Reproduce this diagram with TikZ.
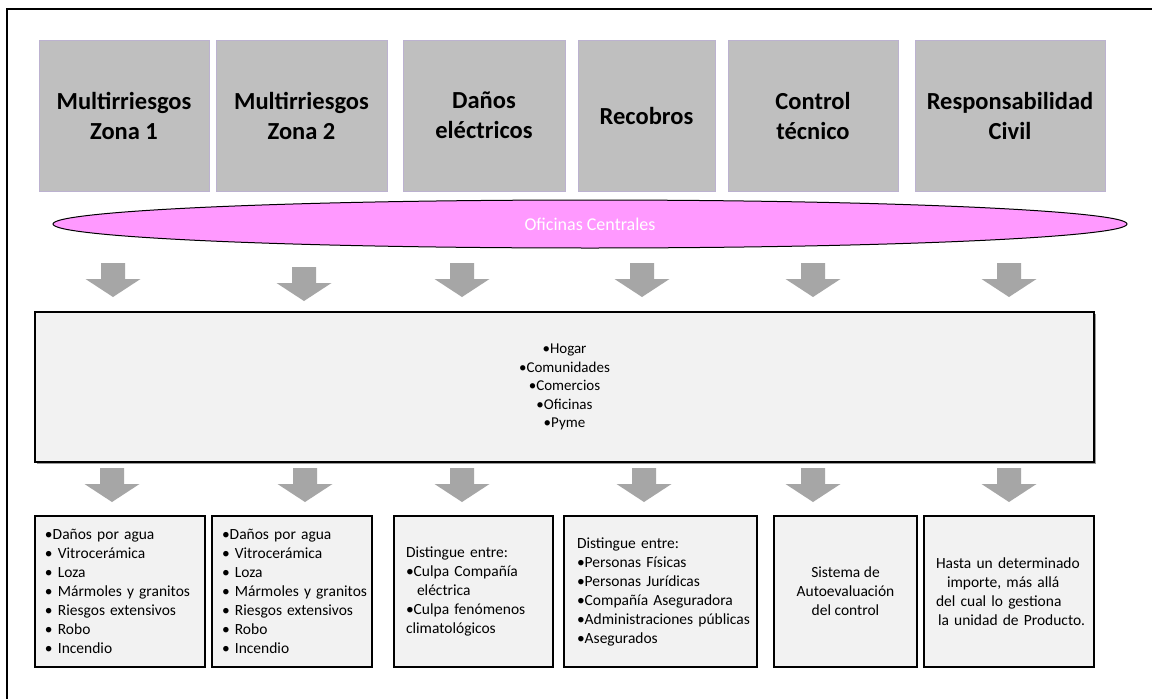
\documentclass[tikz,border=0pt]{standalone}
\usepackage{fontspec}
\setmainfont{Carlito}
\usetikzlibrary{shapes.geometric}
\definecolor{headfill}{HTML}{BFBFBF}
\definecolor{headline}{HTML}{BCB2D0}
\definecolor{ovalfill}{HTML}{FF99FF}
\definecolor{arrowgray}{HTML}{A6A6A6}
\definecolor{panelfill}{HTML}{F2F2F2}
\definecolor{shadowgray}{HTML}{9A9A9A}

\begin{document}
\hyphenpenalty=10000
\exhyphenpenalty=10000
\begin{tikzpicture}[x=1pt,y=-1pt,
  headbox/.style={draw=headline, line width=0.8pt, fill=headfill, inner sep=0pt,
    minimum height=151pt, align=center, font=\fontsize{24.5}{30}\selectfont\bfseries},
  oval/.style={ellipse, draw=black, line width=1pt, fill=ovalfill, inner sep=0pt,
    minimum width=1074pt, minimum height=48pt, text=white, font=\fontsize{18}{22}\selectfont},
  panel/.style={draw=black, line width=1.3pt, fill=panelfill, inner sep=0pt,
    minimum height=151pt, font=\fontsize{15.5}{19}\selectfont},
  listbox/.style={panel, align=left},
  blockarrow/.pic={\fill[arrowgray] (-12,0) -- (12,0) -- (12,16) -- (27.5,16)
    -- (0,34) -- (-27.5,16) -- (-12,16) -- cycle;}
]
\useasboundingbox (0,0) rectangle (1152,699);
\fill[white] (0,0) rectangle (1152,699);

% outer frame, running past the right and bottom edges
\begin{scope}
  \clip (0,0) rectangle (1152,699);
  \draw[line width=2pt] (7,720) |- (1170,9);
\end{scope}

% product areas
\node[headbox, minimum width=170pt] (h1) at (124,115.5)   {Multirriesgos\\Zona 1};
\node[headbox, minimum width=171pt] (h2) at (301.5,115.5) {Multirriesgos\\Zona 2};
\node[headbox, minimum width=162pt] (h3) at (484,115.5)   {Daños\\eléctricos};
\node[headbox, minimum width=137pt] (h4) at (646.5,115.5) {Recobros};
\node[headbox, minimum width=170pt] (h5) at (813,115.5)   {Control\\técnico};
\node[headbox, minimum width=190pt] (h6) at (1010,115.5)  {Responsabilidad\\Civil};

% head office band
\node[oval] (oc) at (590,224) {Oficinas Centrales};

% first row of arrows
\pic at (113,263) {blockarrow};
\pic at (304,267) {blockarrow};
\pic at (462,263) {blockarrow};
\pic at (642,263) {blockarrow};
\pic at (813,263) {blockarrow};
\pic at (1009,263) {blockarrow};

% client segments
\fill[shadowgray] (37,314) rectangle (1096,464);
\node[panel, minimum width=1059pt, minimum height=150pt, align=center,
  font=\fontsize{15}{18.5}\selectfont] (seg) at (564.5,387)
  {•Hogar\\•Comunidades\\•Comercios\\•Oficinas\\•Pyme};

% second row of arrows
\pic at (112,468) {blockarrow};
\pic at (305,468) {blockarrow};
\pic at (462,468) {blockarrow};
\pic at (644,468) {blockarrow};
\pic at (813,468) {blockarrow};
\pic at (1009,468) {blockarrow};

% detail panels
\node[listbox, inner xsep=10pt, text width=150pt] (d1) at (120,591.5)
  {\mbox{•Daños por agua}\\\mbox{• Vitrocerámica}\\\mbox{• Loza}\\\mbox{• Mármoles y granitos}\\\mbox{• Riesgos extensivos}\\\mbox{• Robo}\\\mbox{• Incendio}};
\node[listbox, inner xsep=10pt, text width=140pt] (d2) at (292,591.5)
  {\mbox{•Daños por agua}\\\mbox{• Vitrocerámica}\\\mbox{• Loza}\\\mbox{• Mármoles y granitos}\\\mbox{• Riesgos extensivos}\\\mbox{• Robo}\\\mbox{• Incendio}};
\node[listbox, inner xsep=12pt, text width=135pt] (d3) at (473.5,591.5)
  {\mbox{Distingue entre:}\\\mbox{•Culpa Compañía}\\\hspace*{11pt}eléctrica\\\mbox{•Culpa fenómenos}\\climatológicos};
\node[listbox, inner xsep=13pt, text width=167pt] (d4) at (660.5,591.5)
  {\mbox{Distingue entre:}\\\mbox{•Personas Físicas}\\\mbox{•Personas Jurídicas}\\\mbox{•Compañía Aseguradora}\\\mbox{•Administraciones públicas}\\\mbox{•Asegurados}};
\node[panel, minimum width=143pt, align=center] (d5) at (845.5,591.5)
  {Sistema de\\Autoevaluación\\del control};
\node[listbox, inner xsep=12pt, text width=146pt] (d6) at (1009,591.5)
  {\mbox{Hasta un determinado}\\\mbox{\hspace*{11pt}importe, más allá}\\\mbox{del cual lo gestiona}\\\mbox{\hspace*{2pt}la unidad de Producto.}};
\end{tikzpicture}
\end{document}
